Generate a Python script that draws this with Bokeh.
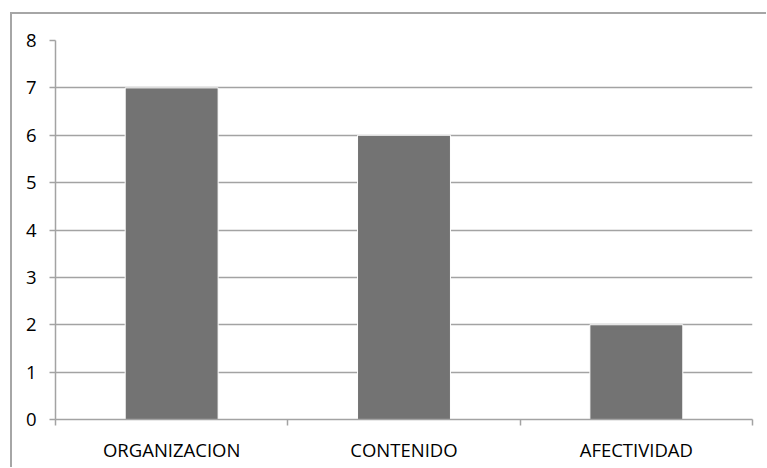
from bokeh.plotting import figure
from bokeh.models import ColumnDataSource, Range1d, FixedTicker, LinearAxis, Grid
from bokeh.embed import file_html
from bokeh.resources import INLINE

categories = ["ORGANIZACION", "CONTENIDO", "AFECTIVIDAD"]
values = [7, 6, 2]
y_ticks = [0, 1, 2, 3, 4, 5, 6, 7, 8]

n = len(categories)
x_pos = [i + 0.5 for i in range(n)]
bounds = [i for i in range(n + 1)]
src = ColumnDataSource(dict(x=x_pos, top=values, cat=categories))

GRAY = "#a3a3a3"
FONT = "Open Sans"

p = figure(width=756, height=455,
           x_range=Range1d(0, n), y_range=Range1d(0, y_ticks[-1]),
           x_axis_type=None, y_axis_type=None,
           output_backend="svg", toolbar_location=None,
           min_border_left=45, min_border_top=28,
           min_border_right=14, min_border_bottom=48)
p.margin = (12, 0, 0, 10)
p.styles = {"box-shadow": "inset 2px 2px 0 0 #a6a6a6"}
p.border_fill_alpha = 0
p.background_fill_color = "white"
p.outline_line_color = None

yticker = FixedTicker(ticks=y_ticks, minor_ticks=[])
p.add_layout(Grid(dimension=1, ticker=yticker, grid_line_color=GRAY, grid_line_width=1.5))

p.vbar(x="x", top="top", width=0.4, source=src,
       fill_color="#737373", line_color="white", line_width=1)

yaxis = LinearAxis(ticker=yticker)
yaxis.axis_line_color = GRAY
yaxis.axis_line_width = 1.5
yaxis.major_tick_line_color = GRAY
yaxis.major_tick_line_width = 1.5
yaxis.major_tick_out = 6
yaxis.major_tick_in = 0
yaxis.minor_tick_line_color = None
yaxis.major_label_standoff = 13
yaxis.major_label_text_font = FONT
yaxis.major_label_text_font_size = "18.5px"
yaxis.major_label_text_color = "black"
p.add_layout(yaxis, "left")

xaxis = LinearAxis(ticker=FixedTicker(ticks=x_pos, minor_ticks=bounds))
xaxis.major_label_overrides = {x: c for x, c in zip(x_pos, categories)}
xaxis.axis_line_color = GRAY
xaxis.axis_line_width = 1.5
xaxis.major_tick_line_color = None
xaxis.major_tick_out = 0
xaxis.major_tick_in = 0
xaxis.minor_tick_line_color = GRAY
xaxis.minor_tick_line_width = 1.5
xaxis.minor_tick_out = 6
xaxis.minor_tick_in = 0
xaxis.major_label_standoff = 11
xaxis.major_label_text_font = FONT
xaxis.major_label_text_font_size = "18.5px"
xaxis.major_label_text_color = "black"
p.add_layout(xaxis, "below")

open("out.html", "w").write(file_html(p, INLINE))
